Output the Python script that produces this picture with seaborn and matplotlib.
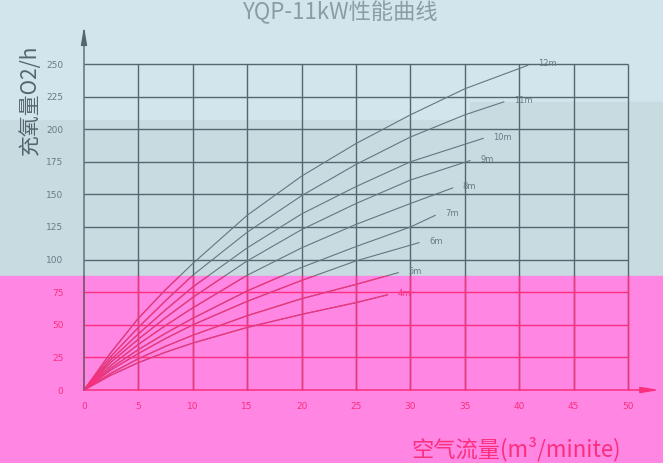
import numpy as np
import pandas as pd
import matplotlib
matplotlib.use("Agg")
import matplotlib.pyplot as plt
from matplotlib.patches import Rectangle
import seaborn as sns

# ---- data ----
depths = ["4m", "5m", "6m", "7m", "8m", "9m", "10m", "11m", "12m"]
x_4m = [0, 2.5, 5, 7.5, 10, 15, 20, 25, 27.9]
y_4m = [0, 11.5, 21, 29, 36, 48, 58, 67, 73]
x_5m = [0, 2.5, 5, 7.5, 10, 15, 20, 25, 28.9]
y_5m = [0, 13, 24, 33.5, 42, 57, 70, 81, 90]
x_6m = [0, 2.5, 5, 7.5, 10, 15, 20, 25, 30.8]
y_6m = [0, 15.5, 28, 39.5, 50, 68, 84, 99, 113]
x_7m = [0, 2.5, 5, 7.5, 10, 15, 20, 25, 30, 32.3]
y_7m = [0, 17, 31, 43.5, 55, 76, 94, 110, 125, 134]
x_8m = [0, 2.5, 5, 7.5, 10, 15, 20, 25, 30, 33.9]
y_8m = [0, 19, 35, 49.5, 63, 88, 109, 127, 143, 155]
x_9m = [0, 2.5, 5, 7.5, 10, 15, 20, 25, 30, 35.5]
y_9m = [0, 21.5, 39, 55.5, 71, 99, 123, 143, 161, 176]
x_10m = [0, 2.5, 5, 7.5, 10, 15, 20, 25, 30, 36.7]
y_10m = [0, 23.5, 43, 61.5, 79, 109, 135, 156, 175, 193]
x_11m = [0, 2.5, 5, 7.5, 10, 15, 20, 25, 30, 35, 38.6]
y_11m = [0, 26, 48, 68.5, 88, 121, 149, 173, 194, 211, 221]
x_12m = [0, 2.5, 5, 7.5, 10, 15, 20, 25, 30, 35, 40.8]
y_12m = [0, 29, 55, 77, 97, 134, 164, 189, 211, 231, 249]
xs = [x_4m, x_5m, x_6m, x_7m, x_8m, x_9m, x_10m, x_11m, x_12m]
ys = [y_4m, y_5m, y_6m, y_7m, y_8m, y_9m, y_10m, y_11m, y_12m]

x_ticks = [0, 5, 10, 15, 20, 25, 30, 35, 40, 45, 50]
y_ticks = [0, 25, 50, 75, 100, 125, 150, 175, 200, 225, 250]

title = "YQP-11kW性能曲线"
ylabel = "充氧量O2/h"
xlabel = "空气流量(m³/minite)"

rows = []
for d, xx, yy in zip(depths, xs, ys):
    for i, (a, b) in enumerate(zip(xx, yy)):
        rows.append({"depth": d, "x": a, "y": b, "order": i})
df = pd.DataFrame(rows)

# ---- style ----
sns.set_theme(style="white")
plt.rcParams["font.family"] = ["Noto Sans CJK SC", "DejaVu Sans"]

W, H = 663, 463
fig = plt.figure(figsize=(W / 100, H / 100), dpi=100)
BG = "#d2e5ed"
BAND = "#c8dbe1"
PINK = "#ff86e2"
GREY = "#56666f"
CURVE = "#66767f"
RED = "#fa2f7e"
fig.patch.set_facecolor(BG)

pink_top_px = 276
pink_frac = (H - pink_top_px) / H
fig.add_artist(Rectangle((0, pink_frac), 1, (pink_top_px - 120) / H,
                         transform=fig.transFigure, color=BAND, zorder=-2))
fig.add_artist(Rectangle((470 / W, (H - 120) / H), 1, 18 / H,
                         transform=fig.transFigure, color=BAND, zorder=-2))
fig.add_artist(Rectangle((0, 0), 1, pink_frac, transform=fig.transFigure,
                         color=PINK, zorder=-1))

# axes geometry (pixels): x=0 at 84 px, 10.88 px/unit ; y=0 at 390 px, 1.304 px/unit
x0px, xs_px = 84, 10.88
y0px, ys_px = 390, 1.304
xlim = (-0.5, 53)
ylim = (-3, 280)
left = (x0px + xlim[0] * xs_px) / W
width = (xlim[1] - xlim[0]) * xs_px / W
bottom = (H - (y0px - ylim[0] * ys_px)) / H
height = (ylim[1] - ylim[0]) * ys_px / H
ax = fig.add_axes([left, bottom, width, height])
ax.set_facecolor("none")
ax.set_xlim(*xlim)
ax.set_ylim(*ylim)
for s in ax.spines.values():
    s.set_visible(False)

pink_y = (y0px - pink_top_px) / ys_px  # data value of pink boundary
clip_rect = Rectangle((0, 0), 1, pink_frac, transform=fig.transFigure)

# grid
ax.vlines(x_ticks[1:], 0, 250, color=GREY, lw=1.0)
vl_r = ax.vlines(x_ticks[1:], 0, 250, color=RED, lw=1.0)
vl_r.set_clip_path(clip_rect)
for v in y_ticks[1:]:
    ax.hlines(v, 0, 50, color=RED if v < pink_y else GREY, lw=1.0)

# curves
sns.lineplot(data=df, x="x", y="y", hue="depth", units="depth", estimator=None,
             sort=False, palette={d: CURVE for d in depths}, legend=False,
             lw=0.8, ax=ax)
n1 = len(ax.lines)
sns.lineplot(data=df, x="x", y="y", hue="depth", units="depth", estimator=None,
             sort=False, palette={d: RED for d in depths}, legend=False,
             lw=0.9, ax=ax)
for ln in ax.lines[n1:]:
    ln.set_clip_path(clip_rect)

# curve labels
for d, xx, yy in zip(depths, xs, ys):
    ax.text(xx[-1] + 0.9, yy[-1] + 1, d, fontsize=6,
            color=RED if yy[-1] < pink_y - 5 else "#6a7a82",
            ha="left", va="center", family=["DejaVu Sans"])

# axes arrows
ax.annotate("", xy=(0, 279), xytext=(0, 0), annotation_clip=False,
            arrowprops=dict(arrowstyle="-|>,head_length=0.9,head_width=0.15",
                            color=GREY, lw=1.0, shrinkA=0, shrinkB=0))
ax.plot([0, 0], [0, pink_y], color=RED, lw=1.1)
ax.annotate("", xy=(52.9, 0), xytext=(0, 0), annotation_clip=False,
            arrowprops=dict(arrowstyle="-|>,head_length=0.9,head_width=0.15",
                            color=RED, lw=1.1, shrinkA=0, shrinkB=0))

# ticks
ax.set_xticks(x_ticks)
ax.set_xticklabels([str(v) for v in x_ticks])
ax.set_yticks(y_ticks)
ax.set_yticklabels([str(v) for v in y_ticks])
ax.tick_params(axis="both", length=0, labelsize=6.5)
ax.tick_params(axis="x", pad=6, labelcolor=RED)
ax.tick_params(axis="y", pad=11)
for lab, v in zip(ax.get_yticklabels(), y_ticks):
    lab.set_color(RED if v < pink_y else "#6a7a82")
    lab.set_family(["DejaVu Sans"])
for lab in ax.get_xticklabels():
    lab.set_family(["DejaVu Sans"])
ax.set_xlabel("")
ax.set_ylabel("")

# texts
fig.text(340 / W, 1 - 19 / H, title, ha="center", va="baseline",
         fontsize=16, color="#8c9ca4")
fig.text(30 / W, 1 - 100 / H, ylabel, ha="center", va="center", rotation=90,
         fontsize=15, color="#56666e")
fig.text(516 / W, 1 - 449 / H, xlabel, ha="center", va="center",
         fontsize=16, color=RED)

fig.savefig("out.png", dpi=100, facecolor=fig.get_facecolor())
